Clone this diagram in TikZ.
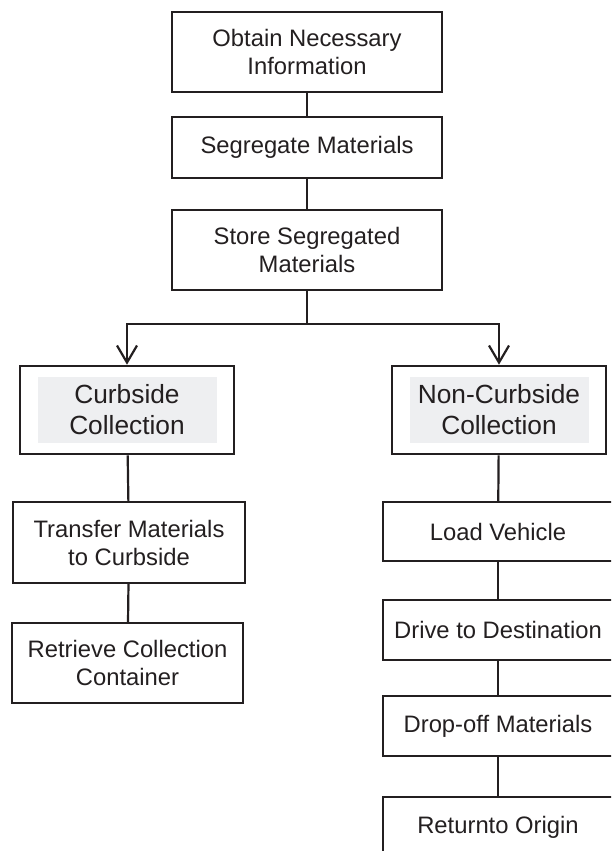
\documentclass[tikz,border=0pt]{standalone}
\usepackage{fontspec}
\setmainfont{Liberation Sans}
\usetikzlibrary{arrows.meta, positioning, fit}
\definecolor{inkgray}{RGB}{35, 31, 32}
\definecolor{shadegray}{RGB}{238, 239, 241}

\begin{document}
\begin{tikzpicture}[x=1pt, y=-1pt,
  box/.style={draw=inkgray, line width=2.2pt, align=center, inner sep=0pt, text=inkgray,
    font=\fontsize{23.8}{28}\selectfont},
  shadebox/.style={fill=shadegray, align=center, inner sep=0pt, text=inkgray,
    minimum width=179pt, minimum height=66pt, font=\fontsize{26.3}{31}\selectfont},
  link/.style={draw=inkgray, line width=2.2pt},
  flow/.style={link, -{Straight Barb[length=17pt, width=20pt]}}]

  \useasboundingbox (0,0) rectangle (611,851);
  \clip (0,0) rectangle (611,851);

  % Top chain
  \node[box, minimum width=270pt, minimum height=80pt] (obtain) at (307, 52) {Obtain Necessary\\Information};
  \node[box, minimum width=270pt, minimum height=61pt] (segregate) at (307, 147.5) {Segregate Materials};
  \node[box, minimum width=270pt, minimum height=80pt] (store) at (307, 250) {Store Segregated\\Materials};
  \coordinate (split) at (307, 324);

  % Two kinds of collection
  \node[shadebox] (curbtext) at (127, 410) {Curbside\\Collection};
  \node[box, fit=(curbtext), inner xsep=17pt, inner ysep=11pt] (curb) {};
  \node[shadebox] (noncurbtext) at (499, 410) {Non-Curbside\\Collection};
  \node[box, fit=(noncurbtext), inner xsep=17pt, inner ysep=11pt] (noncurb) {};

  % Curbside steps
  \node[box, minimum width=232pt, minimum height=81pt] (transfer) at (129, 542.5) {Transfer Materials\\to Curbside};
  \node[box, minimum width=231pt, minimum height=80pt] (retrieve) at (127.5, 663) {Retrieve Collection\\Container};

  % Non-curbside steps
  \node[box, minimum width=230pt, minimum height=59pt] (load) at (498, 531.5) {Load Vehicle};
  \node[box, minimum width=230pt, minimum height=60pt] (drive) at (498, 630) {Drive to Destination};
  \node[box, minimum width=230pt, minimum height=60pt] (dropoff) at (498, 726) {Drop-off Materials};
  \node[box, minimum width=230pt, minimum height=60pt] (return) at (498, 827) {Returnto Origin};

  % Connectors
  \draw[link] (obtain) -- (segregate);
  \draw[link] (segregate) -- (store);
  \draw[link] (store) -- (split);
  \draw[flow] (split) -| (curb);
  \draw[flow] (split) -| (noncurb);
  \draw[link] (curb) -- (transfer);
  \draw[link] (transfer) -- (retrieve);
  \draw[link] (noncurb) -- (load);
  \draw[link] (load) -- (drive);
  \draw[link] (drive) -- (dropoff);
  \draw[link] (dropoff) -- (return);
\end{tikzpicture}
\end{document}
